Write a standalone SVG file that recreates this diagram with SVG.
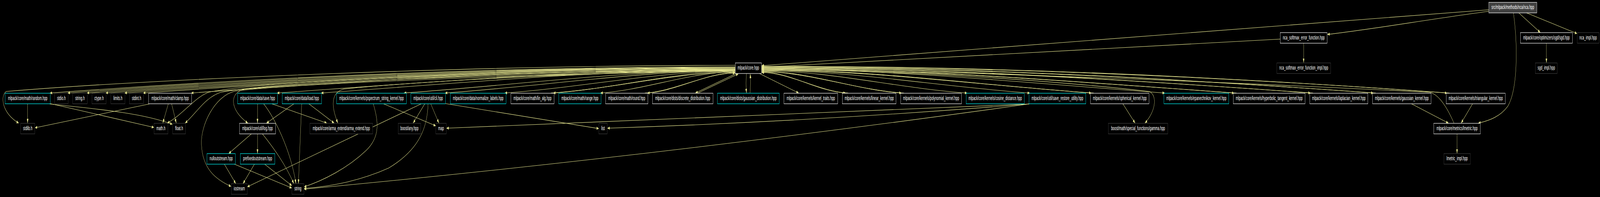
<svg xmlns="http://www.w3.org/2000/svg" width="7823" height="504" viewBox="0 0 7823 504" preserveAspectRatio="none" style="width:100vw;height:100vh;display:block;background:#000000">
<defs>
<style>
.bg{fill:#000000}
.node rect{fill:#000000;stroke-width:1.2}
.w rect{stroke:#ffffff}
.g rect{stroke:#404040}
.c rect{stroke:#00ffff}
.root rect{fill:#404040;stroke:#ffffff}
.node text{fill:#ffffff;font-family:"Liberation Sans",Arial,Helvetica,sans-serif;font-size:14.3px;text-anchor:middle}
.e path{fill:none;stroke:#e6e68f;stroke-width:1.1;marker-end:url(#a)}
</style>
<marker id="a" viewBox="0 0 11 8" refX="11" refY="4" markerWidth="11" markerHeight="8" markerUnits="userSpaceOnUse" orient="auto">
<path d="M0,0 L11,4 L0,8 z" fill="#e6e68f"/>
</marker>
</defs>
<rect class="bg" x="0" y="0" width="7823" height="504"/>
<g id="connectors" class="e">
<path d="M3595,171 C2478,171 1361,195 244,238"/>
<path d="M3595,172 C2507,172 1419,196 331,238"/>
<path d="M3595,173 C2538,173 1482,198 425,238"/>
<path d="M3595,174 C2569,174 1543,199 517,238"/>
<path d="M3595,175 C2600,175 1604,200 609,238"/>
<path d="M3595,176 C2630,176 1665,201 700,238"/>
<path d="M3595,177 C2708,177 1822,204 935,238"/>
<path d="M3595,178 C2848,178 2102,210 1355,238"/>
<path d="M3595,179 C2920,179 2245,213 1570,238"/>
<path d="M3595,180 C3055,180 2515,218 1975,238"/>
<path d="M3595,181 C3122,181 2649,221 2176,238"/>
<path d="M3595,182 C3219,182 2844,224 2468,238"/>
<path d="M3595,183 C3298,183 3002,227 2705,238"/>
<path d="M3595,184 C3375,184 3156,230 2936,238"/>
<path d="M3595,186 C3452,186 3308,233 3165,238"/>
<path d="M3600,188 L3400,238"/>
<path d="M3595,167 C2200,168 700,205 30,234 C0,246 10,290 92,315"/>
<path d="M3595,177 C2500,183 1300,205 1020,236 C950,250 900,290 818,315"/>
<path d="M3595,178 C2600,184 1400,205 1080,236 C1000,250 960,290 905,315"/>
<path d="M3595,179 C2800,185 1600,205 1200,228 C1120,235 1120,280 1212,315"/>
<path d="M3595,180 C2800,186 2000,210 1680,228 C1630,235 1610,260 1652,315"/>
<path d="M3595,181 C2800,188 1500,210 1150,233 C1050,245 980,320 985,370 C990,430 1050,458 1130,477"/>
<path d="M2693,238 C2990,228 3298,185 3594,185"/>
<path d="M3153,238 C3296,234 3452,187 3594,187"/>
<path d="M3412,238 L3610,189"/>
<path d="M3713,188 L3905,238"/>
<path d="M3723,184 C3860,184 3998,234 4135,238"/>
<path d="M3723,182 C3951,182 4180,230 4408,238"/>
<path d="M3723,181 C4058,181 4393,226 4728,238"/>
<path d="M3723,180 C4160,180 4598,222 5035,238"/>
<path d="M3723,178 C4261,178 4798,218 5336,238"/>
<path d="M3723,177 C4380,177 5038,213 5695,238"/>
<path d="M3723,175 C4493,175 5264,209 6034,238"/>
<path d="M3723,173 C4618,173 5513,204 6408,238"/>
<path d="M3723,171 C4720,171 5718,200 6715,238"/>
<path d="M3723,169 C4840,169 5958,195 7075,238"/>
<path d="M4147,238 C4010,235 3860,185.5 3724,185.5"/>
<path d="M4420,238 C4192,231 3951,183.5 3724,183.5"/>
<path d="M5348,238 C4810,219 4261,179.5 3724,179.5"/>
<path d="M6046,238 C5276,210 4493,176.5 3724,176.5"/>
<path d="M6420,238 C5525,205 4618,174.5 3724,174.5"/>
<path d="M6727,238 C5730,201 4720,172.5 3724,172.5"/>
<path d="M7087,238 C5970,196 4840,170.5 3724,170.5"/>
<path d="M3650,188 C3647,205 3647,222 3650,238"/>
<path d="M3667,238 C3670,222 3670,205 3668,189"/>
<path d="M7279,25 L3724,168"/>
<path d="M6260,100 L3724,172"/>
<path d="M7279,29 C7000,48 6700,76 6490,88"/>
<path d="M7426,33 L7531,83"/>
<path d="M7464,33 L7711,86"/>
<path d="M7400,33 C7422,120 7420,230 7372,272 C7335,298 7285,308 7228,315"/>
<path d="M7561,110.5 L7561,160.5"/>
<path d="M6374,110.5 L6374,160.5"/>
<path d="M7124,342.5 L7124,392.5"/>
<path d="M7109,315 C7080,280 7040,242 6990,236 C6000,210 4600,180 3724,177"/>
<path d="M3723,176 C4600,182 5300,215 5620,234 C5660,245 5650,285 5598,315"/>
<path d="M5490,265.5 L5550,315"/>
<path d="M6901,265.5 L7082,315"/>
<path d="M7200,265.5 L7144,315"/>
<path d="M135,265.5 L135,315"/>
<path d="M245,265 L753,326"/>
<path d="M243,266 C500,280 700,290 843,318"/>
<path d="M730,266 L171,327"/>
<path d="M823,265.5 L796,315"/>
<path d="M839,265.5 L862,315"/>
<path d="M1259,265.5 L1259,315"/>
<path d="M1437,265.5 L1303,315"/>
<path d="M1329,265.5 L1598,315"/>
<path d="M1510,265.5 L1634,315"/>
<path d="M1289,265.5 C1340,300 1420,380 1447,470"/>
<path d="M1475,265.5 L1459,470"/>
<path d="M1229,342.5 L1118,393"/>
<path d="M1259,342.5 L1259,393"/>
<path d="M1283,342.5 C1340,380 1395,420 1437,470"/>
<path d="M1097,420 L1153,470"/>
<path d="M1244,420 L1188,470"/>
<path d="M1146,420 L1427,481"/>
<path d="M1294,420 L1427,475"/>
<path d="M2060,265.5 L1209,478"/>
<path d="M2077,265.5 L2020,315"/>
<path d="M2106,265.5 L2146,315"/>
<path d="M2093,265.5 C2090,320 2060,380 1900,430 C1750,465 1600,478 1487,482"/>
<path d="M2178,265 L2928,329"/>
<path d="M1825,265.5 C1850,310 1860,350 1790,385 C1700,430 1580,462 1487,478"/>
<path d="M1875,265.5 L2131,322"/>
<path d="M5032,266 Q3200,400 1487,484"/>
<path d="M5032,266 L2183,328"/>
<path d="M5032,266 Q4000,310 2970,328"/>
</g>
<g id="n_nca" class="node root"><rect x="7279" y="6" width="235" height="27"/><text x="7396.5" y="23.5">src/mlpack/methods/nca/nca.hpp</text></g>
<g id="n_softmax" class="node w"><rect x="6260" y="83.5" width="229" height="27"/><text x="6374.5" y="101">nca_softmax_error_function.hpp</text></g>
<g id="n_sgd" class="node w"><rect x="7434" y="83.5" width="254" height="27"/><text x="7561" y="101">mlpack/core/optimizers/sgd/sgd.hpp</text></g>
<g id="n_nca_impl" class="node g"><rect x="7712" y="83.5" width="106" height="27"/><text x="7765" y="101">nca_impl.hpp</text></g>
<g id="n_core" class="node w"><rect x="3595" y="161" width="128" height="27"/><text x="3659" y="178.5">mlpack/core.hpp</text></g>
<g id="n_softmax_impl" class="node g"><rect x="6243" y="161" width="263" height="27"/><text x="6374.5" y="178.5">nca_softmax_error_function_impl.hpp</text></g>
<g id="n_sgd_impl" class="node g"><rect x="7507" y="161" width="107" height="27"/><text x="7560.5" y="178.5">sgd_impl.hpp</text></g>
<g id="n_random" class="node c"><rect x="25" y="238.5" width="221" height="27"/><text x="135.5" y="256">mlpack/core/math/random.hpp</text></g>
<g id="n_stdio" class="node g"><rect x="267" y="238.5" width="66" height="27"/><text x="300" y="256">stdio.h</text></g>
<g id="n_stringh" class="node g"><rect x="355" y="238.5" width="72" height="27"/><text x="391" y="256">string.h</text></g>
<g id="n_ctype" class="node g"><rect x="450" y="238.5" width="69" height="27"/><text x="484.5" y="256">ctype.h</text></g>
<g id="n_limits" class="node g"><rect x="542" y="238.5" width="69" height="27"/><text x="576.5" y="256">limits.h</text></g>
<g id="n_stdint" class="node g"><rect x="633" y="238.5" width="69" height="27"/><text x="667.5" y="256">stdint.h</text></g>
<g id="n_clamp" class="node w"><rect x="727" y="238.5" width="210" height="27"/><text x="832" y="256">mlpack/core/math/clamp.hpp</text></g>
<g id="n_save" class="node c"><rect x="1162" y="238.5" width="195" height="27"/><text x="1259.5" y="256">mlpack/core/data/save.hpp</text></g>
<g id="n_load" class="node c"><rect x="1380" y="238.5" width="192" height="27"/><text x="1476" y="256">mlpack/core/data/load.hpp</text></g>
<g id="n_pspectrum" class="node c"><rect x="1646" y="238.5" width="341" height="27"/><text x="1816.5" y="256">mlpack/core/kernels/pspectrum_string_kernel.hpp</text></g>
<g id="n_cli" class="node c"><rect x="2009" y="238.5" width="169" height="27"/><text x="2093.5" y="256">mlpack/core/util/cli.hpp</text></g>
<g id="n_normalize" class="node c"><rect x="2202" y="238.5" width="272" height="27"/><text x="2338" y="256">mlpack/core/data/normalize_labels.hpp</text></g>
<g id="n_linalg" class="node w"><rect x="2498" y="238.5" width="211" height="27"/><text x="2603.5" y="256">mlpack/core/math/lin_alg.hpp</text></g>
<g id="n_range" class="node c"><rect x="2732" y="238.5" width="207" height="27"/><text x="2835.5" y="256">mlpack/core/math/range.hpp</text></g>
<g id="n_round" class="node w"><rect x="2961" y="238.5" width="207" height="27"/><text x="3064.5" y="256">mlpack/core/math/round.hpp</text></g>
<g id="n_discrete" class="node w"><rect x="3190" y="238.5" width="296" height="27"/><text x="3338" y="256">mlpack/core/dists/discrete_distribution.hpp</text></g>
<g id="n_gaussdist" class="node c"><rect x="3508" y="238.5" width="302" height="27"/><text x="3659" y="256">mlpack/core/dists/gaussian_distribution.hpp</text></g>
<g id="n_ktraits" class="node w"><rect x="3833" y="238.5" width="263" height="27"/><text x="3964.5" y="256">mlpack/core/kernels/kernel_traits.hpp</text></g>
<g id="n_linear" class="node w"><rect x="4119" y="238.5" width="262" height="27"/><text x="4250" y="256">mlpack/core/kernels/linear_kernel.hpp</text></g>
<g id="n_poly" class="node w"><rect x="4404" y="238.5" width="297" height="27"/><text x="4552.5" y="256">mlpack/core/kernels/polynomial_kernel.hpp</text></g>
<g id="n_cosine" class="node c"><rect x="4724" y="238.5" width="284" height="27"/><text x="4866" y="256">mlpack/core/kernels/cosine_distance.hpp</text></g>
<g id="n_saverestore" class="node c"><rect x="5031" y="238.5" width="278" height="27"/><text x="5170" y="256">mlpack/core/util/save_restore_utility.hpp</text></g>
<g id="n_spherical" class="node w"><rect x="5332" y="238.5" width="286" height="27"/><text x="5475" y="256">mlpack/core/kernels/spherical_kernel.hpp</text></g>
<g id="n_epan" class="node c"><rect x="5691" y="238.5" width="317" height="27"/><text x="5849.5" y="256">mlpack/core/kernels/epanechnikov_kernel.hpp</text></g>
<g id="n_hyper" class="node w"><rect x="6030" y="238.5" width="351" height="27"/><text x="6205.5" y="256">mlpack/core/kernels/hyperbolic_tangent_kernel.hpp</text></g>
<g id="n_laplace" class="node w"><rect x="6404" y="238.5" width="284" height="27"/><text x="6546" y="256">mlpack/core/kernels/laplacian_kernel.hpp</text></g>
<g id="n_gausskern" class="node w"><rect x="6711" y="238.5" width="286" height="27"/><text x="6854" y="256">mlpack/core/kernels/gaussian_kernel.hpp</text></g>
<g id="n_triangular" class="node w"><rect x="7071" y="238.5" width="289" height="27"/><text x="7215.5" y="256">mlpack/core/kernels/triangular_kernel.hpp</text></g>
<g id="n_stdlib" class="node g"><rect x="101" y="315.5" width="69" height="27"/><text x="135.5" y="333">stdlib.h</text></g>
<g id="n_math" class="node g"><rect x="753" y="315.5" width="68" height="27"/><text x="787" y="333">math.h</text></g>
<g id="n_float" class="node g"><rect x="844" y="315.5" width="63" height="27"/><text x="875.5" y="333">float.h</text></g>
<g id="n_log" class="node w"><rect x="1171" y="315.5" width="176" height="27"/><text x="1259" y="333">mlpack/core/util/log.hpp</text></g>
<g id="n_arma" class="node g"><rect x="1515" y="315.5" width="307" height="27"/><text x="1668.5" y="333">mlpack/core/arma_extend/arma_extend.hpp</text></g>
<g id="n_any" class="node g"><rect x="1947" y="315.5" width="110" height="27"/><text x="2002" y="333">boost/any.hpp</text></g>
<g id="n_map" class="node g"><rect x="2131" y="315.5" width="51" height="27"/><text x="2156.5" y="333">map</text></g>
<g id="n_list" class="node g"><rect x="2928" y="315.5" width="41" height="27"/><text x="2948.5" y="333">list</text></g>
<g id="n_gamma" class="node g"><rect x="5419" y="315.5" width="291" height="27"/><text x="5564.5" y="333">boost/math/special_functions/gamma.hpp</text></g>
<g id="n_lmetric" class="node w"><rect x="7010" y="315.5" width="228" height="27"/><text x="7124" y="333">mlpack/core/metrics/lmetric.hpp</text></g>
<g id="n_nullout" class="node c"><rect x="1012" y="393" width="139" height="27"/><text x="1081.5" y="410.5">nulloutstream.hpp</text></g>
<g id="n_prefixed" class="node c"><rect x="1175" y="393" width="169" height="27"/><text x="1259.5" y="410.5">prefixedoutstream.hpp</text></g>
<g id="n_lmetric_impl" class="node g"><rect x="7060" y="393" width="129" height="27"/><text x="7124.5" y="410.5">lmetric_impl.hpp</text></g>
<g id="n_iostream" class="node g"><rect x="1131" y="470" width="78" height="27"/><text x="1170" y="487.5">iostream</text></g>
<g id="n_string" class="node g"><rect x="1427" y="470" width="59" height="27"/><text x="1456.5" y="487.5">string</text></g>
</svg>
